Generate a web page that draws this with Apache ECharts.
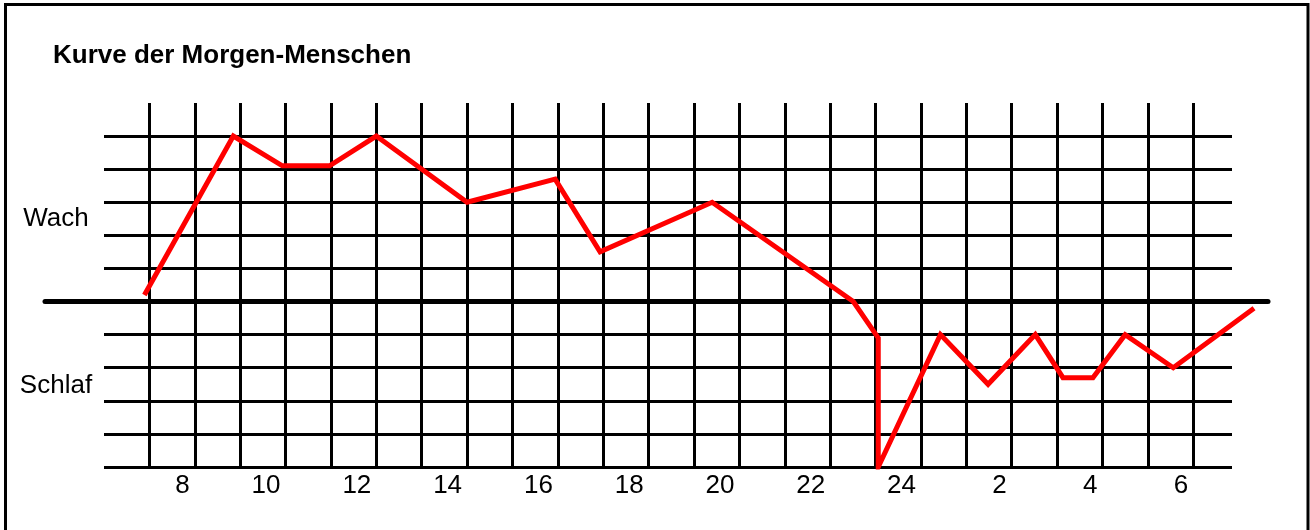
<!DOCTYPE html>
<html>
<head>
<meta charset="utf-8">
<title>Kurve der Morgen-Menschen</title>
<script src="https://cdn.jsdelivr.net/npm/echarts@6/dist/echarts.min.js"></script>
<style>
  html, body { margin: 0; padding: 0; background: #fff; }
  #chart { width: 1310px; height: 530px; }
</style>
</head>
<body>
<div id="chart"></div>
<script>
// Uhrzeit (Stunden, ab 6 Uhr fortlaufend) und Wach-/Schlaf-Niveau
var hours = [6.89, 8.85, 9.93, 10.97, 12.0, 14.0, 15.94, 16.93, 19.4, 22.51,
  23.06, 23.06, 24.43, 25.48, 26.52, 27.13, 27.79, 28.5, 29.56, 31.34]
var levels = [0.2, 5.0, 4.1, 4.1, 5.0, 3.0, 3.7, 1.5, 3.0, 0.0,
  -1.1, -5.0, -1.0, -2.5, -1.0, -2.3, -2.3, -1.0, -2.0, -0.2]
var hourLabels = ['8', '10', '12', '14', '16', '18', '20', '22', '24', '2', '4', '6']

var FONT = 'Liberation Sans, Arial, sans-serif'
var CELL = 45.384 // Breite einer Stunde in px
var chart = echarts.init(document.getElementById('chart'))

chart.setOption({
  animation: false,
  backgroundColor: '#fff',
  title: {
    text: 'Kurve der Morgen-Menschen',
    left: 48,
    top: 38,
    textStyle: { fontSize: 26, fontWeight: 'bold', color: '#000', fontFamily: FONT }
  },
  grid: [
    { left: 104, top: 103, width: CELL * 25, height: 364 }, // senkrechte Linien + Beschriftung
    { left: 104, top: 103, width: 1128, height: 364 },      // waagerechte Linien
    { left: 45, top: 103, width: 1223, height: 364 },       // dicke Null-Linie
    { left: 104, top: 103, width: CELL * 26, height: 364 }  // Kurve (etwas breiter, damit das Ende nicht abgeschnitten wird)
  ],
  xAxis: [
    {
      gridIndex: 0,
      type: 'value',
      min: 6,
      max: 31,
      interval: 1,
      axisLine: { show: false },
      axisTick: { show: false },
      splitLine: {
        show: true,
        showMinLine: false,
        showMaxLine: false,
        lineStyle: { color: '#000', width: 3 }
      },
      axisLabel: {
        margin: 6,
        align: 'right',
        padding: [0, 5, 0, 0],
        fontSize: 26,
        color: '#000',
        fontFamily: FONT,
        formatter: function (v) {
          if (v < 8 || v > 30 || v % 2 !== 0) return ''
          return hourLabels[(v - 8) / 2]
        }
      }
    },
    { gridIndex: 1, type: 'value', min: 0, max: 1, show: false },
    {
      gridIndex: 2,
      type: 'value',
      min: 0,
      max: 1,
      axisLine: { show: true, onZero: true, lineStyle: { color: '#000', width: 5 } },
      axisTick: { show: false },
      axisLabel: { show: false },
      splitLine: { show: false }
    },
    { gridIndex: 3, type: 'value', min: 6, max: 32, show: false }
  ],
  yAxis: [
    { gridIndex: 0, type: 'value', min: -5, max: 6, interval: 1, show: false },
    {
      gridIndex: 1,
      type: 'value',
      min: -5,
      max: 6,
      interval: 1,
      axisLine: { show: false },
      axisTick: { show: false },
      axisLabel: { show: false },
      splitLine: {
        show: true,
        showMaxLine: false,
        lineStyle: { color: '#000', width: 3 }
      }
    },
    { gridIndex: 2, type: 'value', min: -5, max: 6, interval: 1, show: false },
    { gridIndex: 3, type: 'value', min: -5, max: 6, interval: 1, show: false }
  ],
  graphic: [
    {
      type: 'rect',
      shape: { x: 5.5, y: 4.5, width: 1302.5, height: 600 },
      style: { fill: 'none', stroke: '#000', lineWidth: 3 },
      silent: true
    },
    {
      type: 'text',
      x: 56,
      y: 219,
      style: { text: 'Wach', fontSize: 26, fontFamily: FONT, fill: '#000', align: 'center', verticalAlign: 'middle' }
    },
    {
      type: 'text',
      x: 56,
      y: 386,
      style: { text: 'Schlaf', fontSize: 26, fontFamily: FONT, fill: '#000', align: 'center', verticalAlign: 'middle' }
    }
  ],
  series: [
    {
      type: 'line',
      xAxisIndex: 3,
      yAxisIndex: 3,
      symbol: 'none',
      z: 5,
      lineStyle: { color: '#ff0000', width: 5, join: 'miter' },
      data: hours.map(function (h, i) { return [h, levels[i]] })
    }
  ]
})
</script>
</body>
</html>
